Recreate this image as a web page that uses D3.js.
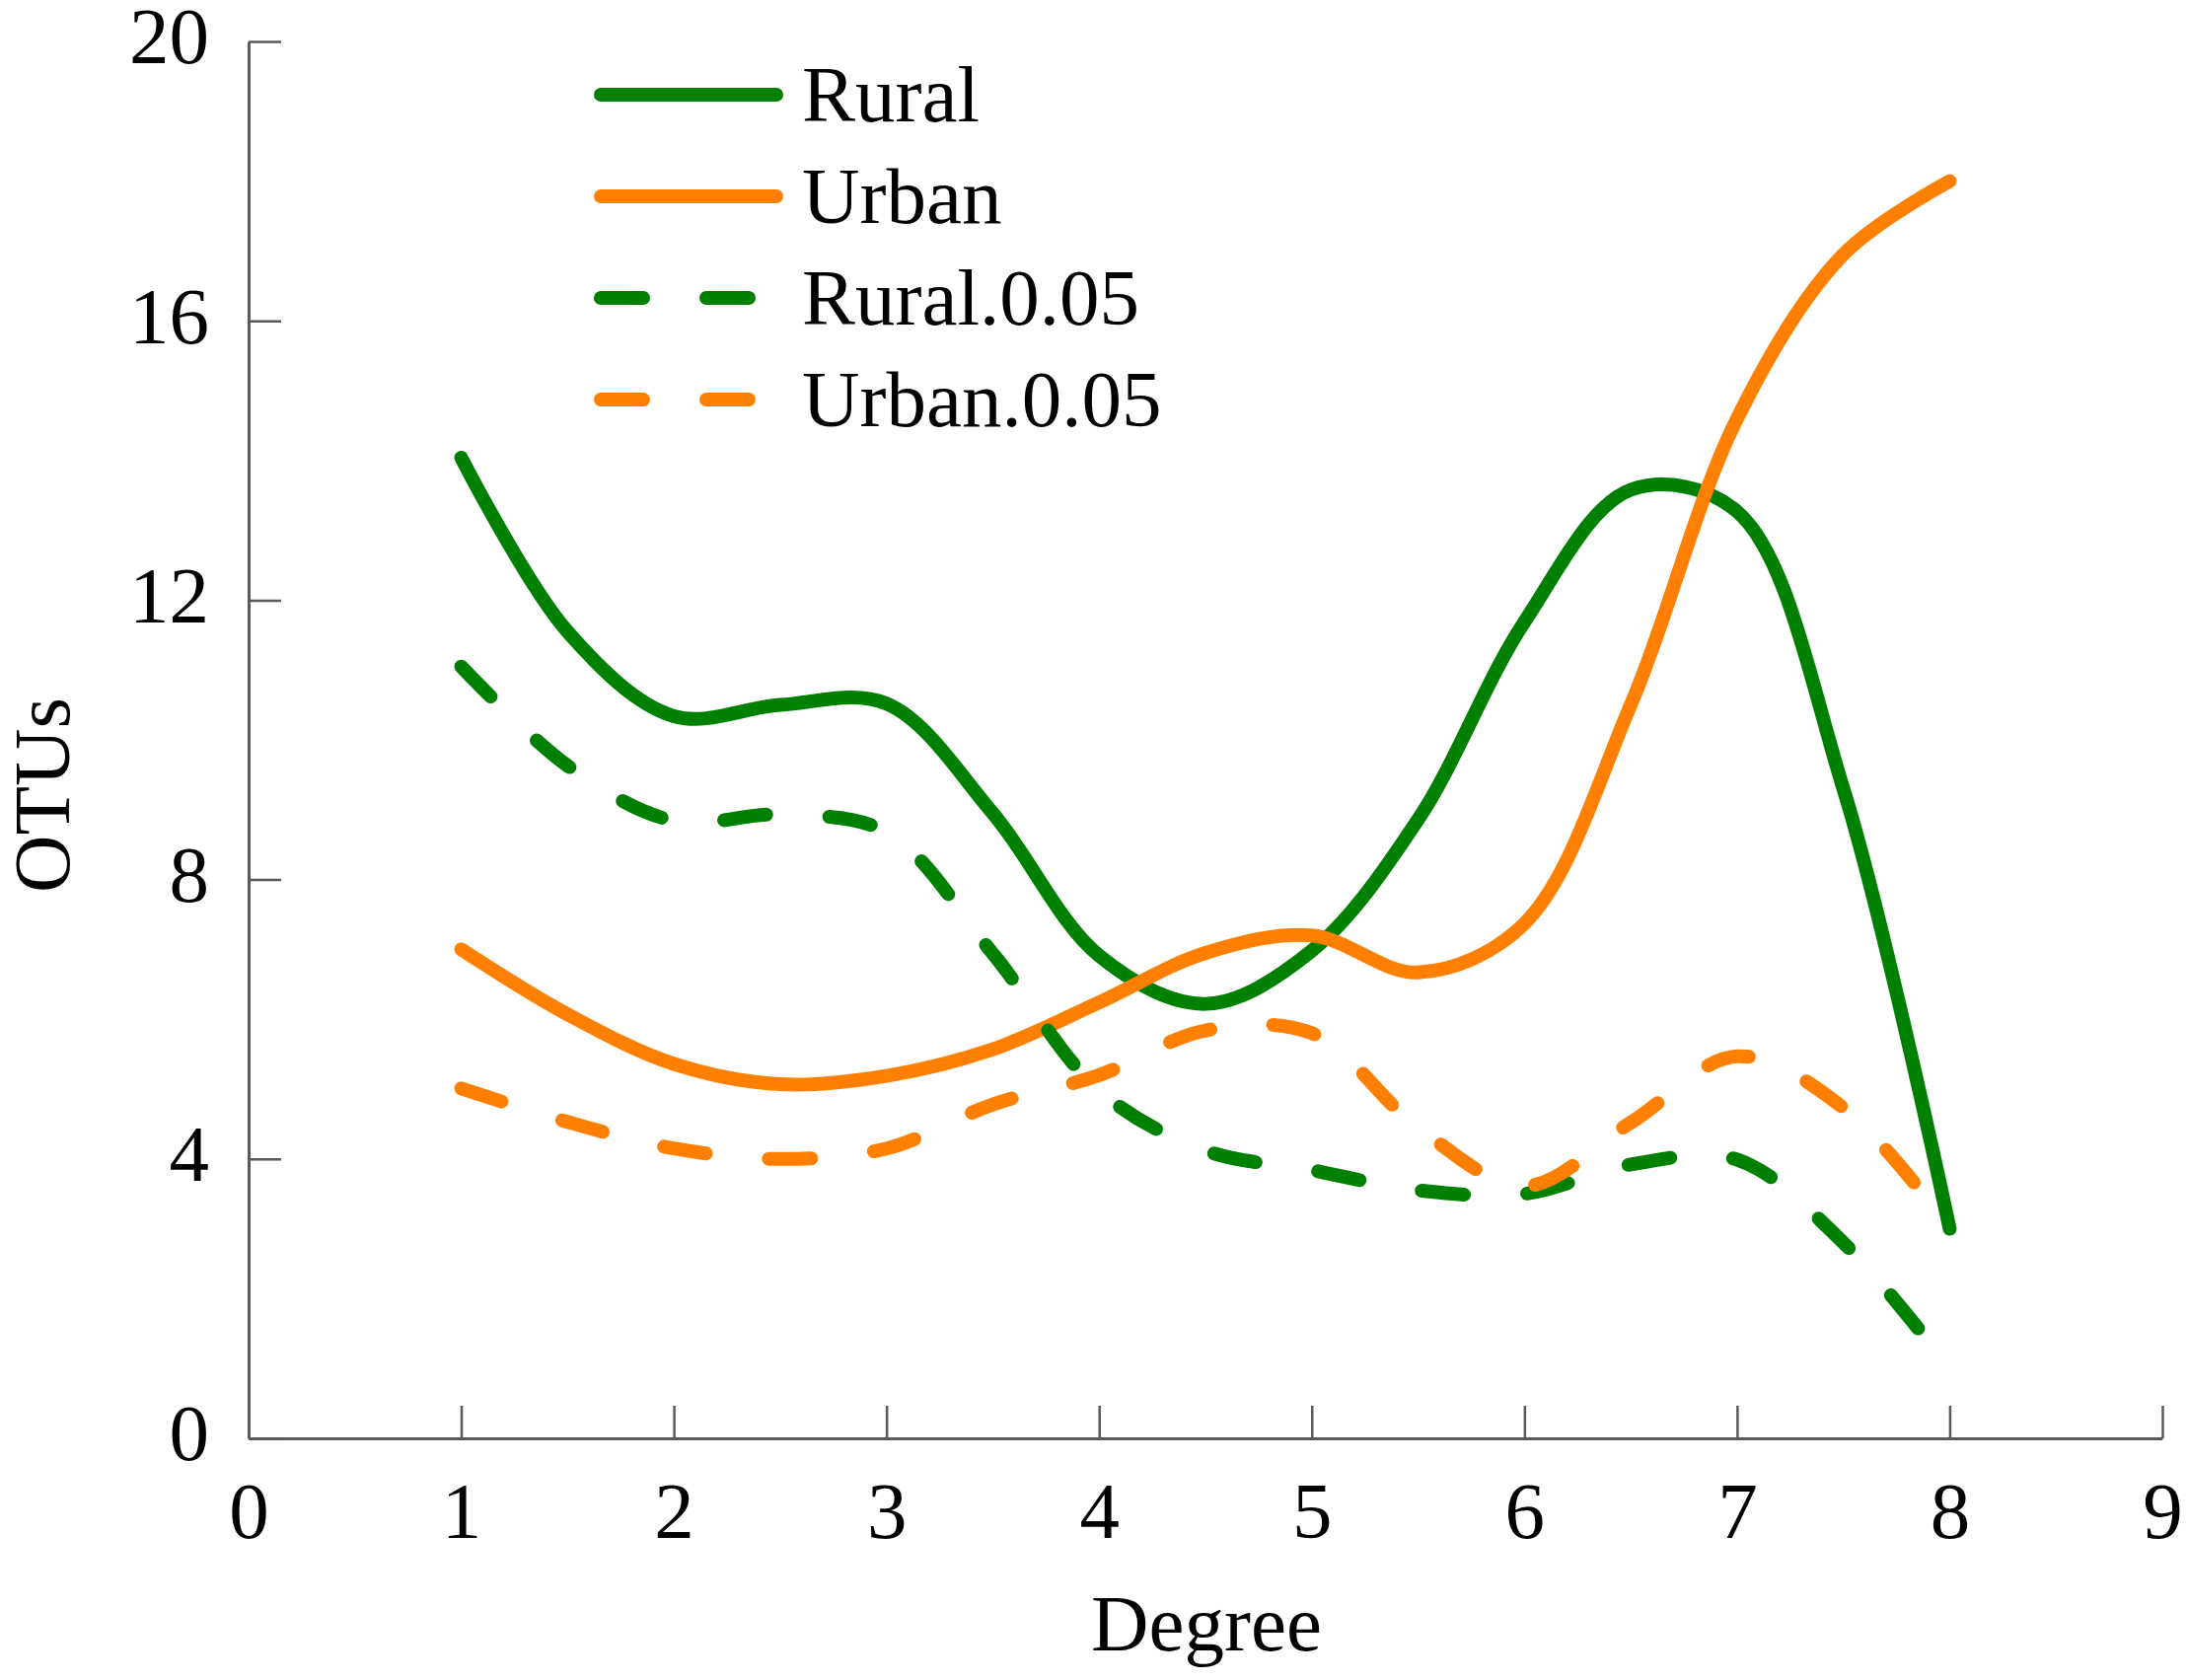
<!DOCTYPE html>
<html lang="en">
<head>
  <meta charset="UTF-8">
  <title>OTUs by Degree</title>
  <script src="https://cdn.jsdelivr.net/npm/d3@7"></script>
  <style>
    body { margin: 0; background: #fff; }
    text { font-family: "Liberation Serif", "Times New Roman", serif; fill: #000; }
  </style>
</head>
<body>
<div id="line-chart"></div>
<script>

// values, every half degree
var degrees = [1, 1.5, 2, 2.5, 3, 3.5, 4, 4.5, 5, 5.5, 6, 6.5, 7, 7.5, 8];
var rural = [14.04, 11.55, 10.34, 10.5, 10.52, 8.95, 6.91, 6.22, 6.98, 8.86, 11.69, 13.58, 13.27, 9.3, 3.0];
var urban = [7.0, 6.07, 5.36, 5.07, 5.19, 5.57, 6.24, 6.95, 7.2, 6.67, 7.37, 10.5, 14.6, 16.95, 18.0];
var rural005 = [11.05, 9.63, 8.84, 8.93, 8.68, 6.94, 4.98, 4.12, 3.84, 3.55, 3.5, 3.92, 3.99, 2.8, 1.0];
var urban005 = [5.01, 4.53, 4.15, 4.0, 4.15, 4.78, 5.2, 5.84, 5.8, 4.45, 3.61, 4.52, 5.47, 4.73, 3.01];

var seriesNames = ["Rural", "Urban", "Rural.0.05", "Urban.0.05"];
var seriesValues = [rural, urban, rural005, urban005];
var xTicks = [0, 1, 2, 3, 4, 5, 6, 7, 8, 9];
var yTicks = [0, 4, 8, 12, 16, 20];

var colorMapping = {"Rural": "#008000", "Urban": "#ff8000", "Rural.0.05": "#008000", "Urban.0.05": "#ff8000"};
var dashMapping = {"Rural": null, "Urban": null, "Rural.0.05": "43,64", "Urban.0.05": "43,64"};

var width = 2217;
var height = 1703;
var fontSize = 81;

var svg = d3.select("#line-chart")
    .append("svg")
    .attr("width", width)
    .attr("height", height);

var xScale = d3.scaleLinear()
    .domain([0, 9])
    .range([252, 2192]);

var yScale = d3.scaleLinear()
    .domain([0, 20])
    .range([1458, 42]);

var xAxis = svg.append("g")
    .attr("transform", "translate(0," + yScale(0) + ")")
    .call(d3.axisBottom(xScale).tickValues(xTicks).tickSizeInner(-33).tickSizeOuter(0).tickPadding(43));

var yAxis = svg.append("g")
    .attr("transform", "translate(" + xScale(0) + ",0)")
    .call(d3.axisLeft(yScale).tickValues(yTicks).tickSizeInner(-33).tickSizeOuter(0).tickPadding(40));

svg.selectAll(".domain")
    .attr("stroke", "#5a5a5a")
    .attr("stroke-width", 3);
svg.selectAll(".tick line")
    .attr("stroke", "#5a5a5a")
    .attr("stroke-width", 2.5);
svg.selectAll(".tick text")
    .attr("font-family", "Liberation Serif, Times New Roman, serif")
    .attr("font-size", fontSize)
    .attr("fill", "#000");
yAxis.selectAll(".tick text").attr("dy", "0.27em");

svg.append("text")
    .attr("text-anchor", "middle")
    .attr("x", 1223)
    .attr("y", 1673)
    .attr("font-size", fontSize)
    .text("Degree");

svg.append("text")
    .attr("text-anchor", "middle")
    .attr("transform", "rotate(-90)")
    .attr("x", -806)
    .attr("y", 70)
    .attr("font-size", fontSize)
    .text("OTUs");

var line = d3.line()
    .x(function(d, i) { return xScale(degrees[i]); })
    .y(function(d) { return yScale(d); })
    .curve(d3.curveCatmullRom);

svg.selectAll("path.series")
    .data(seriesNames)
    .enter().append("path")
    .attr("class", "series")
    .attr("d", function(d, i) { return line(seriesValues[i]); })
    .attr("fill", "none")
    .attr("stroke", function(d) { return colorMapping[d]; })
    .attr("stroke-width", 14)
    .attr("stroke-linecap", "round")
    .attr("stroke-linejoin", "round")
    .attr("stroke-dasharray", function(d) { return dashMapping[d]; });

var legend = svg.append("g")
    .attr("class", "legend")
    .attr("transform", "translate(609,96)");

legend.selectAll("line")
    .data(seriesNames)
    .enter().append("line")
    .attr("x1", 0)
    .attr("x2", 178)
    .attr("y1", function(d, i) { return i * 103; })
    .attr("y2", function(d, i) { return i * 103; })
    .attr("stroke", function(d) { return colorMapping[d]; })
    .attr("stroke-width", 14)
    .attr("stroke-linecap", "round")
    .attr("stroke-dasharray", function(d) { return dashMapping[d]; });

legend.selectAll("text")
    .data(seriesNames)
    .enter().append("text")
    .attr("x", 204)
    .attr("y", function(d, i) { return i * 103 + 27; })
    .attr("font-size", fontSize)
    .text(function(d) { return d; });

</script>
</body>
</html>
